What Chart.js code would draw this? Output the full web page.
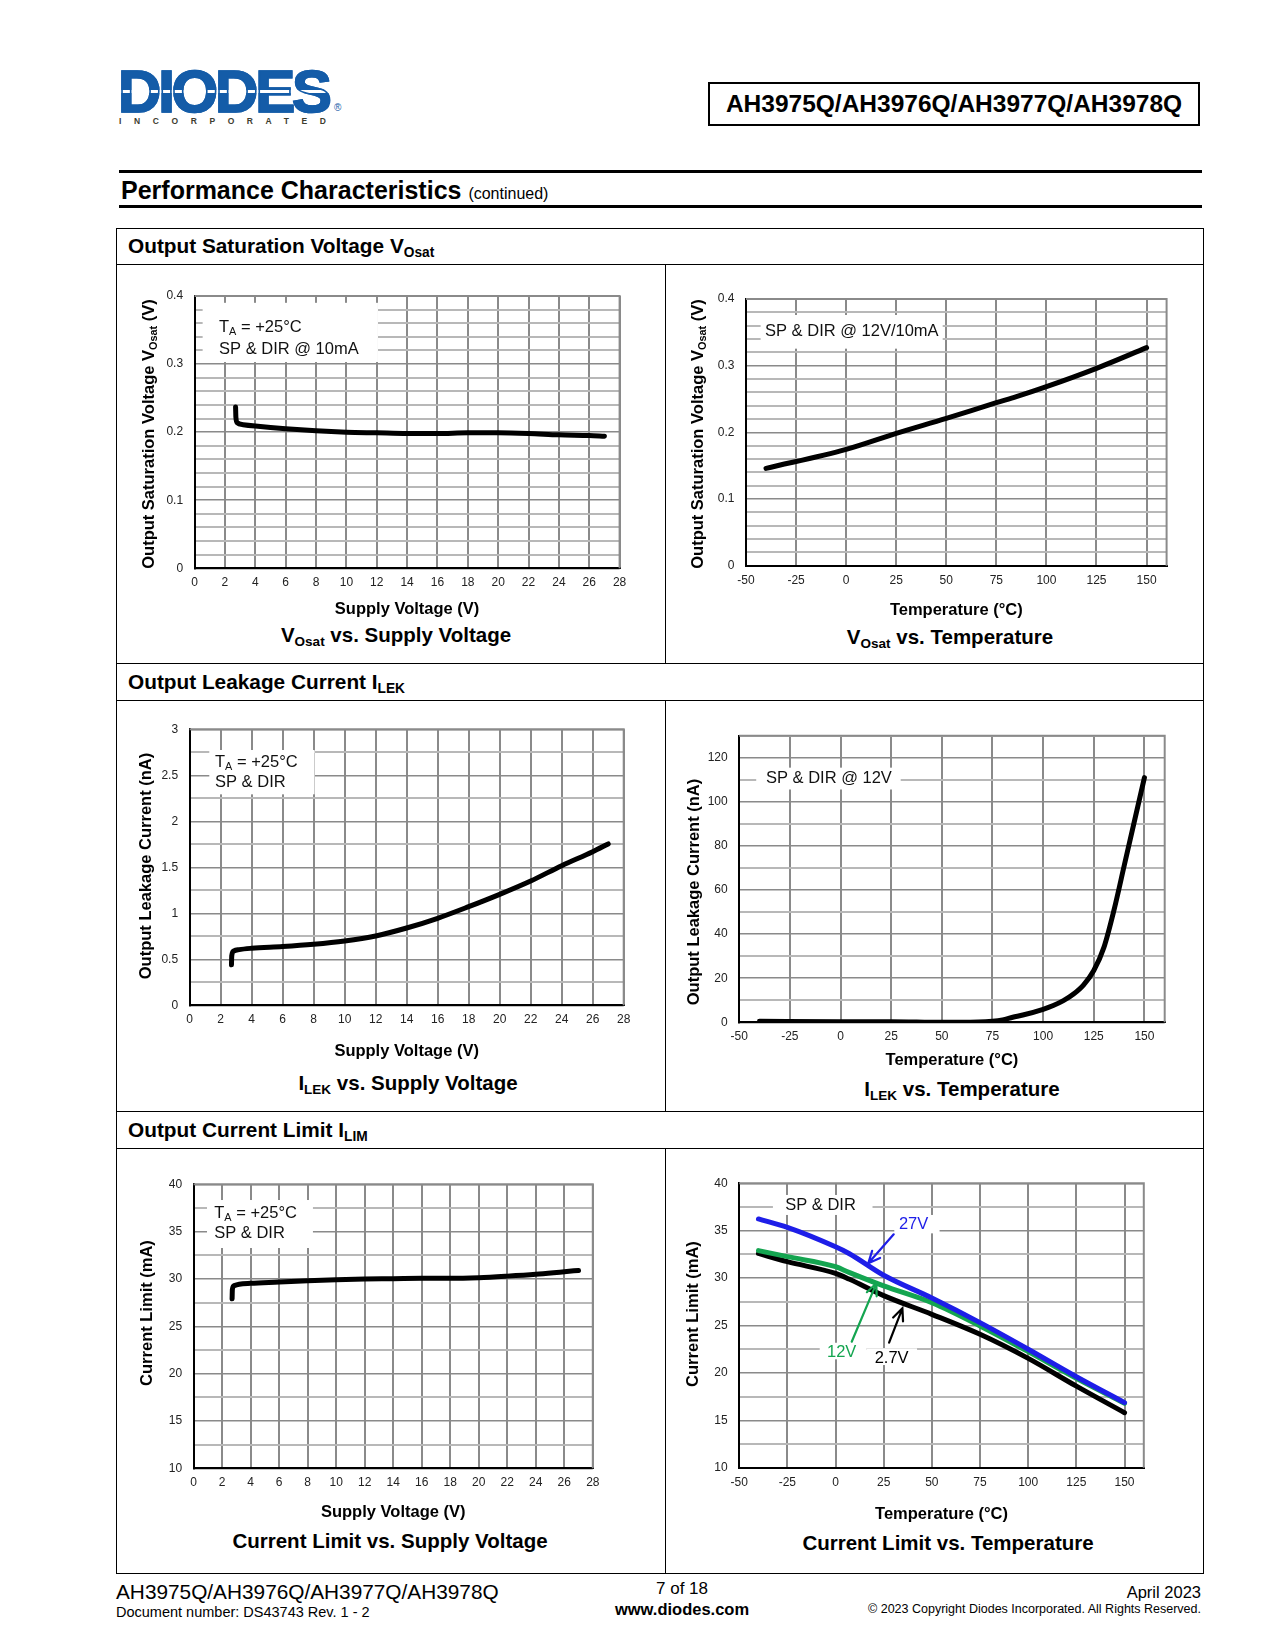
<!DOCTYPE html>
<html>
<head>
<meta charset="utf-8">
<script src="https://cdn.jsdelivr.net/npm/chart.js@4.4.1/dist/chart.umd.min.js"></script>
<style>
  body { margin: 0; width: 1275px; height: 1650px; position: relative; background: #fff; color: #000;
         font-family: "Liberation Sans", Arial, Helvetica, sans-serif; overflow: hidden; }
  .t { position: absolute; white-space: nowrap; line-height: 1.15; z-index: 2; }
  .l { transform: translate(0, -50%); }
  .c { transform: translate(-50%, -50%); }
  .r { transform: translate(-100%, -50%); }
  .yt { position: absolute; white-space: nowrap; line-height: 1.15; font-weight: bold; font-size: 16.5px;
        transform: translate(-50%, -50%) rotate(-90deg); z-index: 2; }
  sub { font-size: 0.66em; vertical-align: baseline; position: relative; top: 0.28em; }
  .rule { position: absolute; background: #000; }
  #logo { position: absolute; left: 118px; top: 62px; font: bold 60px/60px "Liberation Sans", Arial, sans-serif;
          letter-spacing: -3.2px; color: transparent; -webkit-text-stroke: 1.6px #145ca8;
          background: linear-gradient(to bottom, #145ca8 0, #145ca8 47%, #fff 47%, #fff 51%, #145ca8 51%);
          -webkit-background-clip: text; background-clip: text; }
  #inc { position: absolute; left: 119px; top: 116.5px; font: bold 8.5px/9px "Liberation Sans", Arial, sans-serif;
         letter-spacing: 12.6px; color: #3d3d30; }
  #reg { position: absolute; left: 334px; top: 103px; font: 10px/10px "Liberation Sans", Arial, sans-serif; color: #145ca8; }
  #part { position: absolute; left: 708px; top: 82px; width: 492px; height: 44px; box-sizing: border-box;
          border: 2px solid #000; font-weight: bold; font-size: 24.5px; line-height: 40px; text-align: center; }
  canvas { position: absolute; z-index: 1; }
</style>
</head>
<body>

<div id="logo">DIODES</div>
<div id="inc">INCORPORATED</div>
<div id="reg">®</div>
<div id="part">AH3975Q/AH3976Q/AH3977Q/AH3978Q</div>

<div class="rule" style="left:119px;top:170px;width:1083px;height:3px"></div>
<div class="t l" style="left:121px;top:190px;font-size:25px;font-weight:bold">Performance Characteristics <span style="font-size:16px;font-weight:normal">(continued)</span></div>
<div class="rule" style="left:119px;top:205px;width:1083px;height:3px"></div>

<!-- outer frame and section rows -->
<div style="position:absolute;left:116px;top:228px;width:1086px;height:1344px;border:1px solid #000"></div>
<div class="rule" style="left:116px;top:264px;width:1087px;height:1px"></div>
<div class="rule" style="left:116px;top:663px;width:1087px;height:1px"></div>
<div class="rule" style="left:116px;top:700px;width:1087px;height:1px"></div>
<div class="rule" style="left:116px;top:1111px;width:1087px;height:1px"></div>
<div class="rule" style="left:116px;top:1148px;width:1087px;height:1px"></div>
<div class="rule" style="left:665px;top:264px;width:1px;height:399px"></div>
<div class="rule" style="left:665px;top:700px;width:1px;height:411px"></div>
<div class="rule" style="left:665px;top:1148px;width:1px;height:425px"></div>

<div class="t l" style="left:128px;top:246px;font-size:20.8px;font-weight:bold">Output Saturation Voltage V<sub>Osat</sub></div>
<div class="t l" style="left:128px;top:682px;font-size:20.8px;font-weight:bold">Output Leakage Current I<sub>LEK</sub></div>
<div class="t l" style="left:128px;top:1130px;font-size:20.8px;font-weight:bold">Output Current Limit I<sub>LIM</sub></div>

<!-- y axis titles -->
<div class="yt" style="left:148px;top:434px">Output Saturation Voltage V<sub>Osat</sub> (V)</div>
<div class="yt" style="left:697px;top:434px">Output Saturation Voltage V<sub>Osat</sub> (V)</div>
<div class="yt" style="left:145px;top:866px">Output Leakage Current (nA)</div>
<div class="yt" style="left:693px;top:892px">Output Leakage Current (nA)</div>
<div class="yt" style="left:146px;top:1313px">Current Limit (mA)</div>
<div class="yt" style="left:692px;top:1314px">Current Limit (mA)</div>

<!-- chart captions -->
<div class="t c" style="left:396px;top:635px;font-size:20.5px;font-weight:bold">V<sub>Osat</sub> vs. Supply Voltage</div>
<div class="t c" style="left:950px;top:637px;font-size:20.5px;font-weight:bold">V<sub>Osat</sub> vs. Temperature</div>
<div class="t c" style="left:408px;top:1083px;font-size:20.5px;font-weight:bold">I<sub>LEK</sub> vs. Supply Voltage</div>
<div class="t c" style="left:962px;top:1089px;font-size:20.5px;font-weight:bold">I<sub>LEK</sub> vs. Temperature</div>
<div class="t c" style="left:390px;top:1541px;font-size:20.5px;font-weight:bold">Current Limit vs. Supply Voltage</div>
<div class="t c" style="left:948px;top:1543px;font-size:20.5px;font-weight:bold">Current Limit vs. Temperature</div>

<!-- footer -->
<div class="t l" style="left:116px;top:1592px;font-size:20.8px">AH3975Q/AH3976Q/AH3977Q/AH3978Q</div>
<div class="t l" style="left:116px;top:1612px;font-size:14.5px">Document number: DS43743 Rev. 1 - 2</div>
<div class="t c" style="left:682px;top:1589px;font-size:17px">7 of 18</div>
<div class="t c" style="left:682px;top:1609px;font-size:16.5px;font-weight:bold">www.diodes.com</div>
<div class="t r" style="left:1201px;top:1592px;font-size:16.5px">April 2023</div>
<div class="t r" style="left:1201px;top:1609px;font-size:12.5px">© 2023 Copyright Diodes Incorporated. All Rights Reserved.</div>

<script>
// values

const supplyTicks = ['0', '2', '4', '6', '8', '10', '12', '14', '16', '18', '20', '22', '24', '26', '28'];
const tempTicks = ['-50', '-25', '0', '25', '50', '75', '100', '125', '150'];
const vosatTicks = ['0', '0.1', '0.2', '0.3', '0.4'];
const ilekSupplyTicks = ['0', '0.5', '1', '1.5', '2', '2.5', '3'];
const ilekTempTicks = ['0', '20', '40', '60', '80', '100', '120'];
const ilimTicks = ['10', '15', '20', '25', '30', '35', '40'];

// VOsat vs supply voltage, TA = 25C, 10mA
const vosatSupplyV = [2.7, 2.72, 2.8, 3.2, 4, 6, 8, 10, 12, 14, 16, 18, 20, 22, 24, 26, 27];
const vosatSupplyOut = [0.237, 0.222, 0.214, 0.211, 0.209, 0.205, 0.202, 0.200, 0.199, 0.198, 0.198, 0.199, 0.199, 0.198, 0.196, 0.195, 0.194];

// VOsat vs temperature, 12V / 10mA
const vosatTempC = [-40, 0, 25, 50, 75, 85, 100, 125, 150];
const vosatTempOut = [0.146, 0.1745, 0.1985, 0.221, 0.2445, 0.2535, 0.2685, 0.296, 0.327];

// leakage vs supply voltage, TA = 25C
const ilekSupplyV = [2.7, 2.72, 2.85, 3.2, 4, 6, 8, 10, 12, 14, 16, 18, 20, 22, 24, 26, 27];
const ilekSupplyNA = [0.44, 0.54, 0.59, 0.605, 0.62, 0.638, 0.663, 0.699, 0.754, 0.84, 0.946, 1.072, 1.206, 1.351, 1.518, 1.67, 1.754];

// leakage vs temperature, 12V
const ilekTempC = [-40, 0, 25, 50, 60, 75, 80, 85, 90, 100, 105, 110, 115, 120, 125, 130, 135, 140, 145, 150];
const ilekTempNA = [0.45, 0.3, 0.3, 0, 0, 0.5, 1.1, 2.3, 3.3, 5.9, 7.6, 9.8, 12.8, 17, 23.5, 34, 51, 71, 91, 111];

// current limit vs supply voltage, TA = 25C
const ilimSupplyV = [2.7, 2.72, 2.85, 3.2, 4, 6, 8, 10, 12, 14, 16, 18, 20, 22, 24, 26, 27];
const ilimSupplyMA = [27.9, 28.9, 29.3, 29.45, 29.55, 29.68, 29.82, 29.93, 30.0, 30.03, 30.07, 30.07, 30.14, 30.3, 30.5, 30.77, 30.9];

// current limit vs temperature at three supply voltages
const ilimTempC = [-40, -25, 0, 7, 25, 50, 75, 100, 125, 150];
const ilim27V = [36.24, 35.35, 33.3, 32.6, 30.3, 27.9, 25.3, 22.5, 19.6, 16.86];
const ilim12V = [32.9, 32.26, 31.2, 30.6, 29.17, 27.4, 24.95, 22.24, 19.42, 16.79];
const ilim2V7 = [32.6, 31.73, 30.5, 29.9, 28.15, 26.18, 24.07, 21.53, 18.6, 15.8];

const BLUE = '#1e1ee8', GREEN = '#14a550', BLACK = '#000';
const FAM = '"Liberation Sans", Arial, Helvetica, sans-serif';
Chart.defaults.font.family = FAM;

const pts = (xs, ys) => xs.map((x, i) => ({ x, y: ys[i] }));

function gridValues(min, max, step) {
  const out = [];
  for (let k = 0; min + k * step <= max + 1e-9; k++) out.push(+(min + k * step).toFixed(6));
  return out;
}

function labelFor(labels, v) {
  const s = labels.find(l => Math.abs(Number(l) - v) < 1e-6);
  return s === undefined ? '' : s;
}

function drawRich(ctx, parts, x, y, align, color, size) {
  const segs = parts.map(p => {
    const fs = p.sub ? size * 0.66 : size;
    ctx.font = fs + 'px ' + FAM;
    return { p, fs, w: ctx.measureText(p.t).width };
  });
  const total = segs.reduce((a, s) => a + s.w, 0);
  let px = align === 'center' ? x - total / 2 : x;
  const base = y + size * 0.358;
  ctx.fillStyle = color;
  ctx.textAlign = 'left';
  ctx.textBaseline = 'alphabetic';
  segs.forEach(s => {
    ctx.font = s.fs + 'px ' + FAM;
    ctx.fillText(s.p.t, px, base + (s.p.sub ? size * 0.22 : 0));
    px += s.w;
  });
}

function arrow(ctx, x0, y0, x1, y1, color) {
  const a = Math.atan2(y1 - y0, x1 - x0), h = 13, s = 0.42;
  ctx.save();
  ctx.strokeStyle = color;
  ctx.lineWidth = 2.2;
  ctx.lineCap = 'round';
  ctx.beginPath();
  ctx.moveTo(x0, y0);
  ctx.lineTo(x1, y1);
  ctx.moveTo(x1 - h * Math.cos(a - s), y1 - h * Math.sin(a - s));
  ctx.lineTo(x1, y1);
  ctx.lineTo(x1 - h * Math.cos(a + s), y1 - h * Math.sin(a + s));
  ctx.stroke();
  ctx.restore();
}

// box = canvas rect on the page, plot = wanted chart area on the page
function build(spec) {
  const [cx, cy, cw, ch] = spec.box;
  const [L, T, R, B] = spec.plot;
  const cv = document.createElement('canvas');
  cv.width = cw;
  cv.height = ch;
  cv.style.left = cx + 'px';
  cv.style.top = cy + 'px';
  cv.style.width = cw + 'px';
  cv.style.height = ch + 'px';
  document.body.appendChild(cv);

  const titleSize = 16.5;
  const extras = {
    id: 'extras',
    beforeDatasetsDraw(chart) {
      const { ctx, chartArea: a, scales: { x, y } } = chart;
      ctx.save();
      ctx.strokeStyle = '#8a8a8a';
      ctx.lineWidth = 2;
      ctx.beginPath();
      ctx.moveTo(a.left, a.top);
      ctx.lineTo(a.right, a.top);
      ctx.lineTo(a.right, a.bottom);
      ctx.stroke();
      ctx.fillStyle = '#fff';
      (spec.boxes || []).forEach(b => {
        const x0 = x.getPixelForValue(b[0]), y0 = y.getPixelForValue(b[1]);
        const x1 = x.getPixelForValue(b[2]), y1 = y.getPixelForValue(b[3]);
        ctx.fillRect(x0, y0, x1 - x0, y1 - y0);
      });
      (spec.notes || []).forEach(n => {
        drawRich(ctx, n.parts, x.getPixelForValue(n.x), y.getPixelForValue(n.y), n.align || 'left', n.color || '#111', 16.5);
      });
      ctx.restore();
    },
    afterDatasetsDraw(chart) {
      const { ctx, scales: { x, y } } = chart;
      (spec.arrows || []).forEach(ar => {
        arrow(ctx, x.getPixelForValue(ar.from[0]), y.getPixelForValue(ar.from[1]),
          x.getPixelForValue(ar.to[0]), y.getPixelForValue(ar.to[1]), ar.color);
      });
    }
  };

  const yLab = spec.yLabels;
  new Chart(cv, {
    type: 'line',
    data: {
      datasets: spec.series.map(s => ({
        label: s.label,
        data: s.data,
        borderColor: s.color,
        borderWidth: 5,
        pointRadius: 0,
        fill: false,
        cubicInterpolationMode: 'monotone',
        borderCapStyle: 'round',
        borderJoinStyle: 'round'
      }))
    },
    options: {
      responsive: false,
      animation: false,
      devicePixelRatio: 1,
      events: [],
      layout: { padding: { left: 0, top: T - cy, right: cx + cw - R, bottom: 0 } },
      plugins: { legend: { display: false }, tooltip: { enabled: false } },
      scales: {
        x: {
          type: 'linear',
          min: spec.x[0], max: spec.x[1],
          afterBuildTicks: s => { s.ticks = gridValues(spec.x[0], spec.x[2], spec.x[3]).map(value => ({ value })); },
          afterFit: s => { s.height = cy + ch - B; },
          ticks: { autoSkip: false, maxRotation: 0, padding: 7.5, color: '#222', font: { size: 12 },
                   callback: v => labelFor(spec.xLabels, v) },
          grid: { color: '#8a8a8a', lineWidth: 2, drawTicks: false },
          border: { color: '#000', width: 2 },
          title: { display: true, text: spec.xTitle, color: '#000', font: { size: titleSize, weight: 'bold' },
                   padding: { top: 0, bottom: cy + ch - spec.xTitleY - titleSize * 0.6 } }
        },
        y: {
          type: 'linear',
          min: spec.y[0], max: spec.y[1],
          afterBuildTicks: s => { s.ticks = gridValues(spec.y[0], spec.y[1], spec.y[2]).map(value => ({ value })); },
          afterFit: s => { s.width = L - cx; },
          ticks: { autoSkip: false, padding: 11.5, color: '#222', font: { size: 12 },
                   callback: v => labelFor(yLab, v) },
          grid: {
            drawTicks: false,
            color: c => (c.tick && labelFor(yLab, c.tick.value)) ? '#8a8a8a' : '#b8b8b8',
            lineWidth: c => (c.tick && labelFor(yLab, c.tick.value)) ? 1.5 : 2
          },
          border: { color: '#000', width: 2 }
        }
      }
    },
    plugins: [extras]
  });
}

const TA = [{ t: 'T' }, { t: 'A', sub: true }, { t: ' = +25°C' }];

build({
  box: [118, 266, 545, 355], plot: [194.6, 296, 619.6, 568.3],
  x: [0, 28, 28, 2], xLabels: supplyTicks, y: [0, 0.4, 0.02], yLabels: vosatTicks,
  xTitle: 'Supply Voltage (V)', xTitleY: 609,
  series: [{ label: 'VOsat', data: pts(vosatSupplyV, vosatSupplyOut), color: BLACK }],
  boxes: [[0.53, 0.39, 12.08, 0.303]],
  notes: [{ x: 1.61, y: 0.3564, parts: TA }, { x: 1.61, y: 0.3232, parts: [{ t: 'SP & DIR @ 10mA' }] }]
});

build({
  box: [667, 266, 534, 356], plot: [746, 299, 1166.6, 565.7],
  x: [-50, 160, 150, 25], xLabels: tempTicks, y: [0, 0.4, 0.02], yLabels: vosatTicks,
  xTitle: 'Temperature (°C)', xTitleY: 610,
  series: [{ label: 'VOsat', data: pts(vosatTempC, vosatTempOut), color: BLACK }],
  boxes: [[-42.7, 0.376, 48.2, 0.3255]],
  notes: [{ x: -40.5, y: 0.3535, parts: [{ t: 'SP & DIR @ 12V/10mA' }] }]
});

build({
  box: [118, 702, 545, 361], plot: [189.6, 729.3, 623.7, 1005.3],
  x: [0, 28, 28, 2], xLabels: supplyTicks, y: [0, 3, 0.25], yLabels: ilekSupplyTicks,
  xTitle: 'Supply Voltage (V)', xTitleY: 1051,
  series: [{ label: 'ILEK', data: pts(ilekSupplyV, ilekSupplyNA), color: BLACK }],
  boxes: [[1.27, 2.775, 8.06, 2.293]],
  notes: [{ x: 1.64, y: 2.656, parts: TA }, { x: 1.64, y: 2.438, parts: [{ t: 'SP & DIR' }] }]
});

build({
  box: [667, 702, 534, 370], plot: [739.2, 735.7, 1164.7, 1022.3],
  x: [-50, 160, 150, 25], xLabels: tempTicks, y: [0, 130, 10], yLabels: ilekTempTicks,
  xTitle: 'Temperature (°C)', xTitleY: 1060,
  series: [{ label: 'ILEK', data: pts(ilekTempC, ilekTempNA), color: BLACK }],
  boxes: [[-41.6, 115.5, 29.7, 105.6]],
  notes: [{ x: -36.8, y: 111.2, parts: [{ t: 'SP & DIR @ 12V' }] }]
});

build({
  box: [118, 1150, 545, 374], plot: [193.6, 1184.3, 592.8, 1468.3],
  x: [0, 28, 28, 2], xLabels: supplyTicks, y: [10, 40, 2.5], yLabels: ilimTicks,
  xTitle: 'Supply Voltage (V)', xTitleY: 1512,
  series: [{ label: 'ILIM', data: pts(ilimSupplyV, ilimSupplyMA), color: BLACK }],
  boxes: [[0.94, 38.34, 8.37, 33.27]],
  notes: [{ x: 1.45, y: 37.1, parts: TA }, { x: 1.45, y: 35.0, parts: [{ t: 'SP & DIR' }] }]
});

build({
  box: [667, 1150, 534, 376], plot: [739.2, 1183.3, 1143.8, 1467.7],
  x: [-50, 160, 150, 25], xLabels: tempTicks, y: [10, 40, 2.5], yLabels: ilimTicks,
  xTitle: 'Temperature (°C)', xTitleY: 1514,
  series: [
    { label: '27V', data: pts(ilimTempC, ilim27V), color: BLUE },
    { label: '12V', data: pts(ilimTempC, ilim12V), color: GREEN },
    { label: '2.7V', data: pts(ilimTempC, ilim2V7), color: BLACK }
  ],
  boxes: [[-32.5, 38.77, 19.2, 36.66], [30.5, 36.66, 54.0, 34.72], [-8.2, 23.18, 16.1, 21.43], [16.1, 22.59, 42.3, 20.83]],
  notes: [
    { x: -7.8, y: 37.8, align: 'center', parts: [{ t: 'SP & DIR' }] },
    { x: 40.5, y: 35.85, align: 'center', color: BLUE, parts: [{ t: '27V' }] },
    { x: 3.2, y: 22.34, align: 'center', color: GREEN, parts: [{ t: '12V' }] },
    { x: 29.1, y: 21.64, align: 'center', color: BLACK, parts: [{ t: '2.7V' }] }
  ],
  arrows: [
    { from: [30.2, 34.62], to: [17.0, 31.56], color: BLUE },
    { from: [8.4, 23.29], to: [21.2, 29.45], color: GREEN },
    { from: [27.8, 23.19], to: [34.7, 26.81], color: BLACK }
  ]
});
</script>
</body>
</html>
